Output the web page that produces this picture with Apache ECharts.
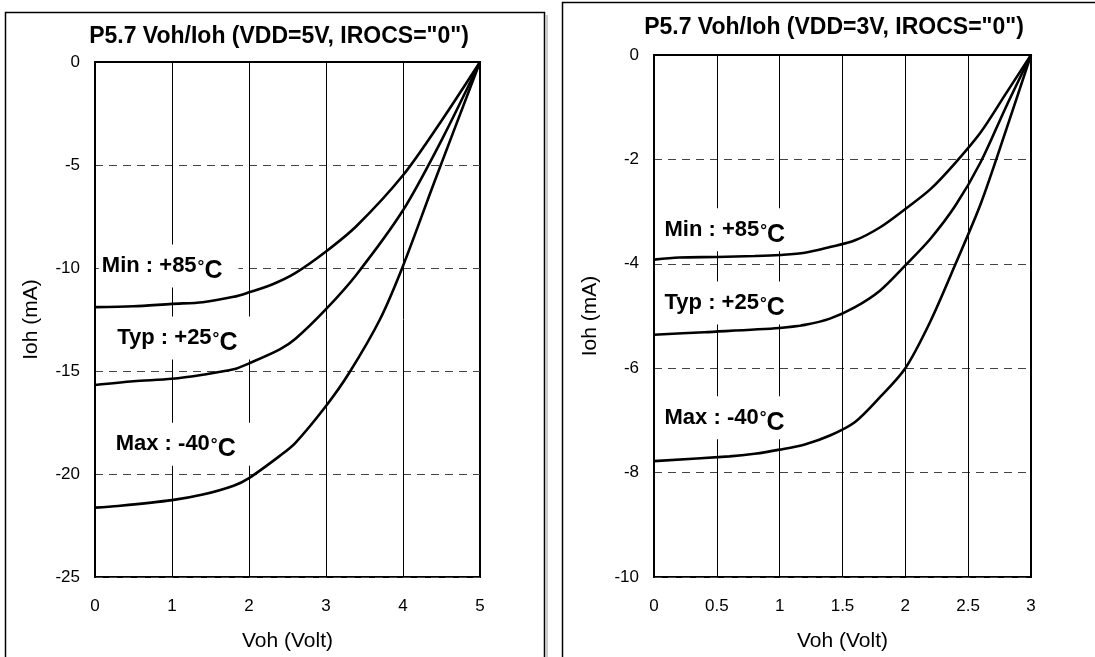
<!DOCTYPE html>
<html>
<head>
<meta charset="utf-8">
<script src="https://cdn.jsdelivr.net/npm/echarts@6/dist/echarts.min.js"></script>
<style>
  html, body { margin: 0; padding: 0; background: #fff; }
  #chart { width: 1095px; height: 657px; }
</style>
</head>
<body>
<div id="chart"></div>
<script>
// VDD = 5V panel, [Voh, Ioh]
var min5 = [[0, -11.9], [0.5, -11.86], [1, -11.74], [1.4, -11.66], [1.8, -11.4], [2, -11.18], [2.3, -10.8], [2.6, -10.25], [3, -9.2], [3.4, -7.95], [4, -5.5], [4.5, -2.85], [5, 0]];
var typ5 = [[0, -15.68], [0.5, -15.5], [1, -15.38], [1.4, -15.18], [1.8, -14.92], [2, -14.63], [2.4, -13.95], [2.6, -13.45], [3, -12.0], [3.4, -10.3], [4, -7.2], [4.5, -3.8], [5, 0]];
var max5 = [[0, -21.63], [0.3, -21.55], [1, -21.27], [1.4, -21.0], [1.8, -20.57], [2, -20.2], [2.4, -19.12], [2.6, -18.5], [3, -16.7], [3.3, -15.1], [3.7, -12.5], [4, -9.9], [4.4, -5.9], [5, 0]];

// VDD = 3V panel
var min3 = [[0, -3.92], [0.2, -3.88], [0.5, -3.87], [0.8, -3.85], [1, -3.83], [1.2, -3.79], [1.4, -3.68], [1.6, -3.55], [1.8, -3.3], [2, -2.95], [2.2, -2.57], [2.4, -2.06], [2.6, -1.48], [2.8, -0.74], [3, 0]];
var typ3 = [[0, -5.36], [0.4, -5.31], [1, -5.23], [1.2, -5.17], [1.4, -5.05], [1.6, -4.83], [1.8, -4.51], [2, -4.03], [2.2, -3.52], [2.4, -2.88], [2.6, -2.05], [2.8, -1.0], [3, 0]];
var max3 = [[0, -7.78], [0.6, -7.69], [0.8, -7.64], [1, -7.56], [1.2, -7.46], [1.4, -7.29], [1.6, -7.03], [1.8, -6.55], [2, -6.0], [2.2, -5.1], [2.4, -4.0], [2.6, -2.85], [2.8, -1.45], [3, 0]];

var titles = ['P5.7 Voh/Ioh (VDD=5V, IROCS="0")', 'P5.7 Voh/Ioh (VDD=3V, IROCS="0")'];
var tempLabels = ['Min : +85', 'Typ : +25', 'Max : -40'];
// where each temperature label sits, in data units
var labelPos5 = [[0.05, -9.9], [0.25, -13.4], [0.23, -18.55]];
var labelPos3 = [[0.06, -3.35], [0.06, -4.75], [0.06, -6.95]];

var FONT = 'Liberation Sans, Arial, sans-serif';

function tempMark(text, coord) {
  return {
    symbol: 'rect',
    symbolSize: 0,
    silent: true,
    data: [{ coord: coord }],
    label: {
      show: true,
      position: 'right',
      distance: 0,
      formatter: text + '{d|°}{c|C}',
      backgroundColor: '#fff',
      padding: [4, 16, 4, 3],
      color: '#000',
      fontFamily: FONT,
      fontWeight: 'bold',
      fontSize: 22,
      rich: {
        d: { fontFamily: FONT, fontWeight: 'bold', fontSize: 17, color: '#000', padding: [2, 0, 0, 1] },
        c: { fontFamily: FONT, fontWeight: 'bold', fontSize: 25, color: '#000', padding: [10, 0, 0, 0] }
      }
    }
  };
}

function curve(data, xi, label, pos) {
  return {
    type: 'line',
    xAxisIndex: xi,
    yAxisIndex: xi,
    data: data,
    smooth: 0.3,
    showSymbol: false,
    lineStyle: { color: '#000', width: 2.6 },
    markPoint: tempMark(label, pos)
  };
}

function xAxisOf(grid, max, interval) {
  return {
    type: 'value',
    gridIndex: grid,
    min: 0,
    max: max,
    interval: interval,
    name: 'Voh (Volt)',
    nameLocation: 'middle',
    nameGap: 54,
    nameTextStyle: { color: '#000', fontFamily: FONT, fontSize: 21 },
    axisLine: { show: true, lineStyle: { color: '#000', width: 2 } },
    axisTick: { show: false },
    axisLabel: { color: '#000', fontFamily: FONT, fontSize: 17, margin: 21 },
    splitLine: { show: true, lineStyle: { color: '#000', width: 1 } }
  };
}

function yAxisOf(grid, min, interval) {
  return {
    type: 'value',
    gridIndex: grid,
    min: min,
    max: 0,
    interval: interval,
    name: 'Ioh (mA)',
    nameLocation: 'middle',
    nameGap: 53,
    nameTextStyle: { color: '#000', fontFamily: FONT, fontSize: 21 },
    axisLine: { show: true, lineStyle: { color: '#000', width: 2 } },
    axisTick: { show: false },
    axisLabel: { color: '#000', fontFamily: FONT, fontSize: 17, margin: 15 },
    splitLine: { show: true, lineStyle: { color: '#444', width: 1, type: [8, 6] } }
  };
}

var chart = echarts.init(document.getElementById('chart'), null, { renderer: 'canvas' });

chart.setOption({
  animation: false,
  backgroundColor: '#fff',
  title: [
    { text: titles[0], left: 274, top: 20, textAlign: 'center',
      textStyle: { fontFamily: FONT, fontWeight: 'bold', fontSize: 23, color: '#000' } },
    { text: titles[1], left: 829, top: 11, textAlign: 'center',
      textStyle: { fontFamily: FONT, fontWeight: 'bold', fontSize: 23, color: '#000' } }
  ],
  graphic: [
    { type: 'rect', shape: { x: 5.5, y: 12.5, width: 539, height: 700 },
      style: { fill: 'none', stroke: '#000', lineWidth: 1.5 } },
    { type: 'line', shape: { x1: 547, y1: 15, x2: 547, y2: 657 },
      style: { stroke: '#bbb', lineWidth: 1.5 } },
    { type: 'rect', shape: { x: 562.5, y: 2.5, width: 600, height: 700 },
      style: { fill: 'none', stroke: '#000', lineWidth: 1.5 } }
  ],
  grid: [
    { left: 95, top: 62, width: 385, height: 516, show: true, borderColor: '#000', borderWidth: 2 },
    { left: 654, top: 55, width: 377, height: 522, show: true, borderColor: '#000', borderWidth: 2 }
  ],
  xAxis: [xAxisOf(0, 5, 1), xAxisOf(1, 3, 0.5)],
  yAxis: [yAxisOf(0, -25, 5), yAxisOf(1, -10, 2)],
  series: [
    curve(min5, 0, tempLabels[0], labelPos5[0]),
    curve(typ5, 0, tempLabels[1], labelPos5[1]),
    curve(max5, 0, tempLabels[2], labelPos5[2]),
    curve(min3, 1, tempLabels[0], labelPos3[0]),
    curve(typ3, 1, tempLabels[1], labelPos3[1]),
    curve(max3, 1, tempLabels[2], labelPos3[2])
  ]
});
</script>
</body>
</html>
